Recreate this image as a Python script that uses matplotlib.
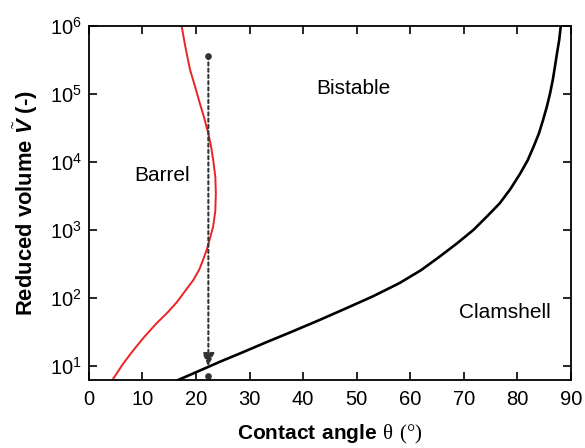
import numpy as np
import matplotlib
matplotlib.use('Agg')
import matplotlib.pyplot as plt

# 读取的曲线数据 (接触角, 体积)
barrel_theta = [4.4, 6.3, 8.3, 10.4, 12.6, 14.6, 16.4, 18.0, 19.5, 20.6, 21.3, 22.0, 22.6, 23.2, 23.6, 23.7, 23.6, 23.2, 22.8, 22.3, 21.5, 20.7, 19.8, 18.9, 18.1, 17.3]
barrel_vol = [6.2, 10.5, 17, 27, 42, 60, 86, 127, 183, 260, 360, 510, 750, 1120, 1900, 3500, 6000, 10700, 17000, 26000, 45000, 73000, 130000, 224000, 450000, 1000000]

clam_theta = [16.7, 20.7, 24.5, 28.2, 33.0, 38.0, 43.0, 48.0, 53.0, 58.0, 62.0, 65.5, 68.8, 71.8, 74.4, 76.7, 78.7, 80.5, 81.9, 83.0, 84.0, 84.8, 85.5, 86.1, 86.6, 87.0, 87.4, 87.8, 88.1]
clam_vol = [6.2, 8.5, 11.5, 15.2, 22, 32, 47, 70, 105, 165, 255, 405, 640, 1000, 1600, 2460, 4000, 6700, 10500, 16600, 26000, 41600, 65000, 102000, 160000, 250000, 400000, 620000, 1000000]

arrow_theta = 22.3
arrow_top = 3.6e5
arrow_end = 9.7
dot_bottom = 7.1

labels = ['Barrel', 'Bistable', 'Clamshell']
label_pos = [(13.7, 6300), (49.3, 1.2e5), (77.7, 60)]

plt.rcParams['font.family'] = ['Liberation Sans', 'DejaVu Sans']
plt.rcParams['mathtext.fontset'] = 'custom'
plt.rcParams['mathtext.rm'] = 'Liberation Serif'
plt.rcParams['mathtext.bf'] = 'Liberation Sans:bold'
plt.rcParams['mathtext.bfit'] = 'Liberation Sans:bold:italic'

fig = plt.figure(figsize=(5.85, 4.48), dpi=100)
ax = fig.add_axes([0.152, 0.152, 0.824, 0.790])

ax.plot(barrel_theta, barrel_vol, color='#ee2222', lw=1.4)
ax.plot(clam_theta, clam_vol, color='black', lw=1.9)

# 虚线箭头
ax.annotate('', xy=(arrow_theta, arrow_end), xytext=(arrow_theta, arrow_top),
            arrowprops=dict(arrowstyle='-|>,head_length=0.5,head_width=0.22',
                            linestyle=(0, (1.5, 1.5)), color='#333333',
                            lw=1.5, mutation_scale=16, shrinkA=0, shrinkB=0))
ax.plot([arrow_theta, arrow_theta], [arrow_top, dot_bottom], 'o', color='#333333', ms=3.8)

for t, (x, y) in zip(labels, label_pos):
    ax.text(x, y, t, fontsize=15, ha='center', va='center')

ax.set_yscale('log')
ax.set_xlim(0, 90)
ax.set_ylim(6.2, 1e6)
ax.set_xticks(np.arange(0, 91, 10))
ax.set_yticks([1e1, 1e2, 1e3, 1e4, 1e5, 1e6])
ax.minorticks_off()
ax.tick_params(direction='in', top=True, right=True, labelsize=14.5, length=6, width=1.2)
ax.tick_params(axis='x', pad=7)
ax.tick_params(axis='y', pad=5)
for s in ax.spines.values():
    s.set_linewidth(1.3)

ax.set_xlabel(r'$\mathbf{Contact\ angle}\ \mathrm{\theta\ (°)}$', fontsize=15, labelpad=10)
ax.set_ylabel(r'Reduced volume $\tilde{\mathbfit{V}}$ (-)', fontsize=15.8, fontweight='bold', labelpad=7)

plt.savefig('out.png', dpi=100)
